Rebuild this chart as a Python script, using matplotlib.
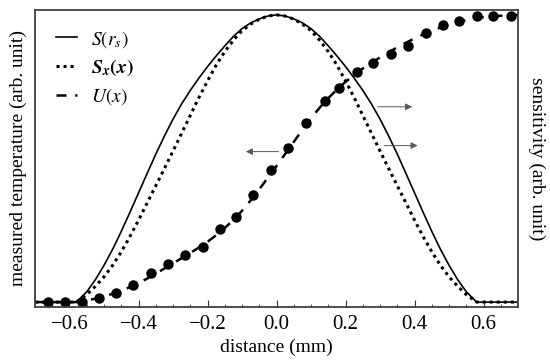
import numpy as np
import matplotlib
matplotlib.use("Agg")
import matplotlib.pyplot as plt
from matplotlib.ticker import MultipleLocator

# sensitivity S(r_s), solid (right half, symmetric about 0)
s_x = [0.0, 0.025, 0.05, 0.075, 0.10, 0.125, 0.15, 0.175, 0.20, 0.225, 0.25, 0.275,
       0.30, 0.325, 0.35, 0.375, 0.40, 0.425, 0.45, 0.475, 0.50, 0.525, 0.55, 0.575,
       0.58, 0.70]
s_val = [1.0, 0.996, 0.986, 0.972, 0.952, 0.925, 0.892, 0.857, 0.820, 0.780, 0.737, 0.690,
         0.637, 0.578, 0.515, 0.448, 0.380, 0.312, 0.246, 0.184, 0.128, 0.078, 0.036, 0.006,
         0.0, 0.0]

# sensitivity S_x(x), dotted
sx_val = [1.0, 0.996, 0.985, 0.968, 0.945, 0.912, 0.872, 0.825, 0.770, 0.712, 0.650, 0.588,
          0.526, 0.465, 0.405, 0.345, 0.285, 0.228, 0.175, 0.128, 0.088, 0.055, 0.026, 0.005,
          0.0, 0.0]

# fitted U(x), dashed
u_x = [-0.70, -0.58, -0.55, -0.525, -0.50, -0.475, -0.45, -0.425, -0.40, -0.375, -0.35,
       -0.325, -0.30, -0.275, -0.25, -0.225, -0.20, -0.175, -0.15, -0.125, -0.10, -0.075,
       -0.05, -0.025, 0.0, 0.025, 0.05, 0.075, 0.10, 0.125, 0.15, 0.175, 0.20, 0.225, 0.25,
       0.275, 0.30, 0.325, 0.35, 0.375, 0.40, 0.425, 0.45, 0.475, 0.50, 0.525, 0.55, 0.575,
       0.60, 0.65, 0.70]
u_fit = [0.0, 0.0, 0.006, 0.012, 0.02, 0.029, 0.04, 0.052, 0.066, 0.082, 0.099,
         0.117, 0.135, 0.153, 0.171, 0.19, 0.21, 0.233, 0.258, 0.286, 0.318, 0.354,
         0.393, 0.433, 0.474, 0.516, 0.558, 0.60, 0.64, 0.677, 0.71, 0.74, 0.767, 0.791, 0.813,
         0.833, 0.852, 0.87, 0.887, 0.903, 0.918, 0.932, 0.945, 0.956, 0.966, 0.975, 0.982, 0.988,
         0.992, 0.997, 1.0]

# measured temperature points
m_x = [-0.661, -0.614, -0.563, -0.515, -0.464, -0.415, -0.364, -0.314, -0.266, -0.214,
       -0.164, -0.118, -0.068, -0.017, 0.034, 0.085, 0.14, 0.18, 0.232, 0.28, 0.333,
       0.382, 0.433, 0.481, 0.53, 0.58, 0.628, 0.678]
m_y = [0.0, 0.0, 0.0, 0.016, 0.03, 0.059, 0.103, 0.132, 0.164, 0.193,
       0.253, 0.297, 0.373, 0.46, 0.537, 0.625, 0.70, 0.744, 0.80, 0.834, 0.864,
       0.893, 0.936, 0.965, 0.979, 0.997, 0.997, 0.997]

plt.rcParams["font.family"] = ["Liberation Serif", "DejaVu Serif"]
plt.rcParams["mathtext.fontset"] = "stix"

fig = plt.figure(figsize=(5.5, 3.61), dpi=100)
ax = fig.add_axes([0.0636, 0.1496, 0.8784, 0.8227])

# mirror the symmetric sensitivity curves
sx_full = [-v for v in s_x[::-1]] + s_x[1:]
s_full = s_val[::-1] + s_val[1:]
sxx_full = sx_val[::-1] + sx_val[1:]

ax.plot(sx_full, s_full, color="black", lw=1.2, label=r"$S(r_s)$")
ax.plot(sx_full, sxx_full, color="black", lw=2.2, linestyle=(0, (1, 1.3)),
        label=r"$\mathbfit{S}_{\mathbfit{x}}\mathbf{(}\mathbfit{x}\mathbf{)}$")
ax.plot(u_x, u_fit, color="black", lw=1.8, linestyle=(0, (4, 3.5)), label=r"$U(x)$")
ax.plot(m_x, m_y, "o", color="black", ms=6.5)

# arrows pointing at the matching axis
arrow = dict(arrowstyle="-|>", color="0.35", lw=0.7, mutation_scale=10)
ax.annotate("", xy=(-0.097, 0.524), xytext=(0.014, 0.524), arrowprops=arrow)
ax.annotate("", xy=(0.401, 0.68), xytext=(0.285, 0.68), arrowprops=arrow)
ax.annotate("", xy=(0.417, 0.545), xytext=(0.304, 0.545), arrowprops=arrow)

ax.set_xlim(-0.7, 0.7)
ax.set_ylim(-0.017, 1.017)
ax.xaxis.set_major_locator(MultipleLocator(0.2))
ax.xaxis.set_minor_locator(MultipleLocator(0.05))
ax.tick_params(axis="x", which="both", direction="in", labelsize=15, pad=6, color="0.2")
ax.tick_params(axis="x", which="major", length=5)
ax.tick_params(axis="x", which="minor", length=2.5)
ax.set_yticks([])
ax.set_xticklabels([f"{v:.1f}".replace("-", "\u2212") for v in ax.get_xticks()])
for sp in ax.spines.values():
    sp.set_linewidth(1.3)
    sp.set_color("0.25")

ax.set_xlabel("distance (mm)", fontsize=14, labelpad=3)
ax.set_ylabel("measured temperature (arb. unit)", fontsize=14, labelpad=6)
fig.text(0.975, 0.56, "sensitivity (arb. unit)", rotation=-90, fontsize=14,
         ha="center", va="center")

ax.legend(loc="upper left", frameon=False, fontsize=14, handlelength=1.1,
          handletextpad=0.7, labelspacing=0.42, borderaxespad=0.3,
          bbox_to_anchor=(0.015, 0.983))

fig.savefig("out.png", dpi=100)
